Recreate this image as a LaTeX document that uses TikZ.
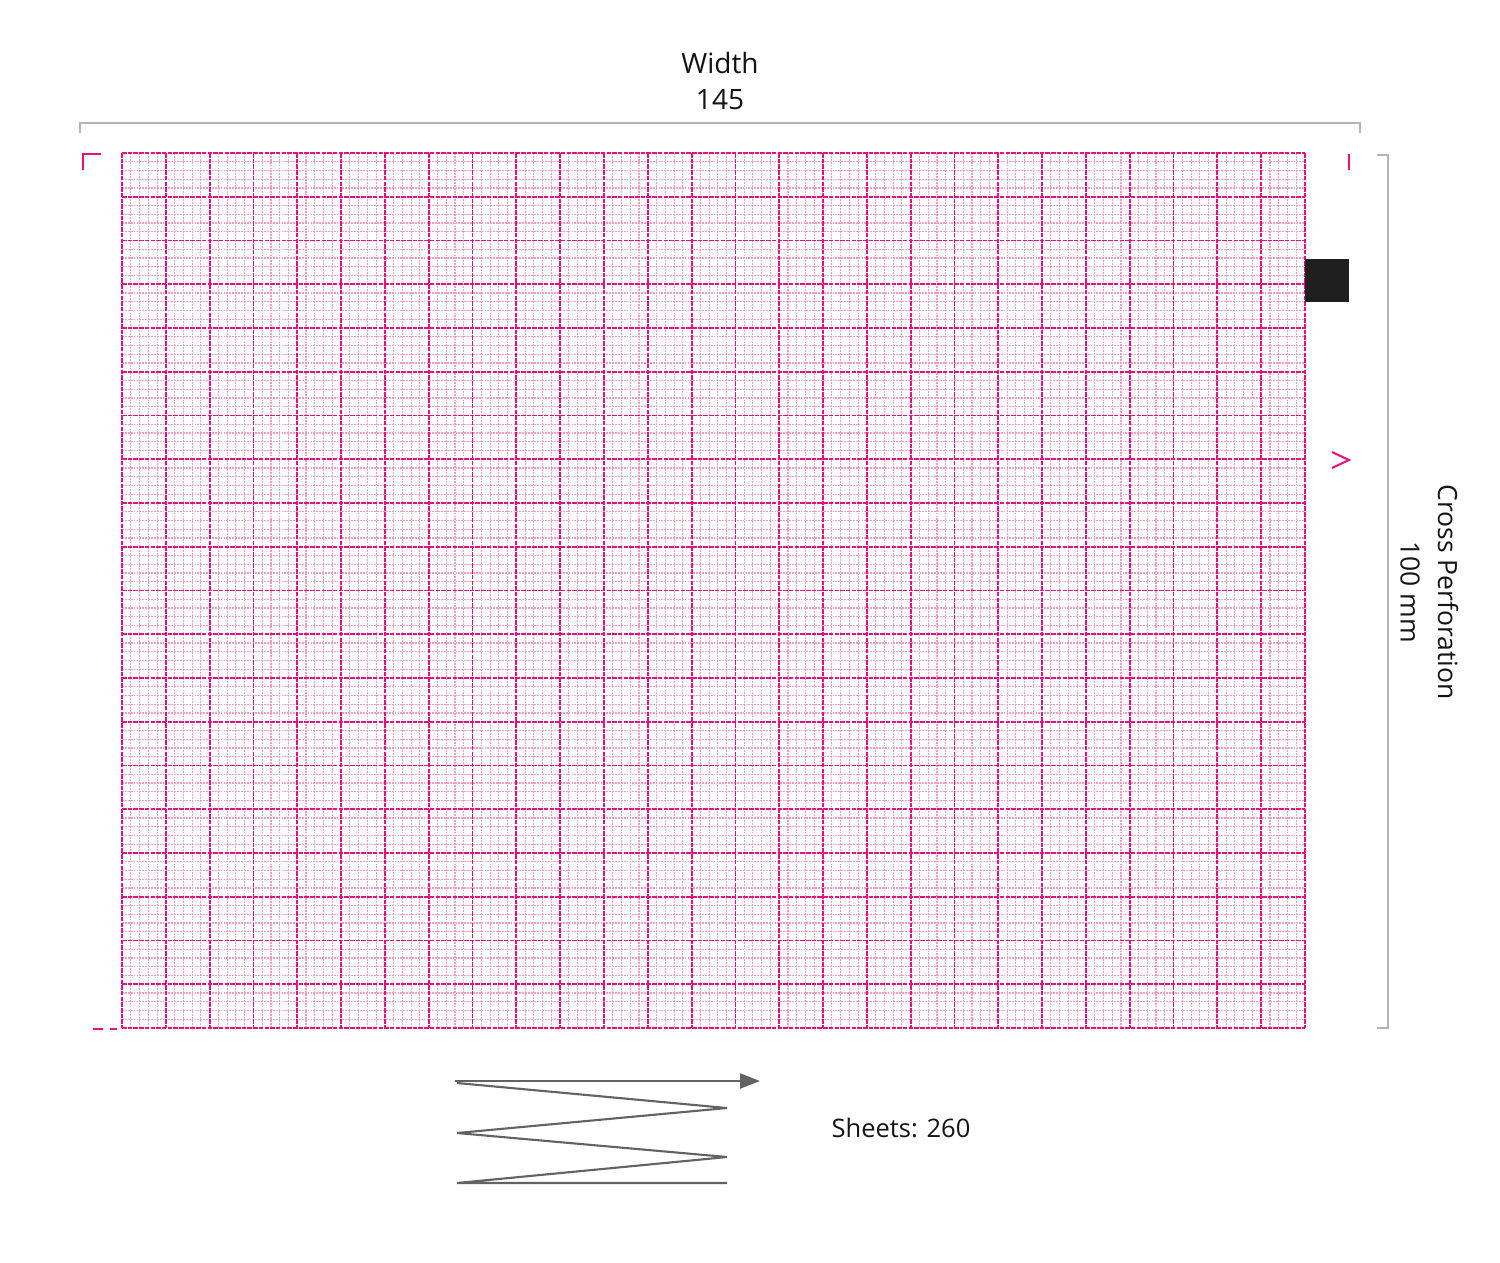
\documentclass[tikz,border=0pt]{standalone}
\usepackage{fontspec}
\setmainfont{Open Sans}
\usetikzlibrary{arrows.meta}
\definecolor{majpink}{HTML}{E8107E}
\definecolor{minpink}{HTML}{F29CC4}
\definecolor{dimgray}{HTML}{B4B4B4}
\definecolor{arrgray}{HTML}{626262}
\tikzset{
  minorline/.style={minpink, line width=1.1pt, dash pattern=on 1.8pt off 1.1pt},
  majorline/.style={majpink, line width=1.8pt, dash pattern=on 4.5pt off 1.2pt},
  dimline/.style={dimgray, line width=1.4pt},
  pinkmark/.style={majpink, line width=1.6pt},
  zig/.style={arrgray, line width=2.1pt, line join=miter},
  lbl/.style={inner sep=0pt, text=black!92, font=\fontsize{28}{30}\selectfont},
  rlbl/.style={lbl, rotate=-90, font=\fontsize{26.5}{28}\selectfont},
}
\begin{document}
\begin{tikzpicture}[x=1pt,y=-1pt]
\useasboundingbox (0,0) rectangle (1500,1262);
\fill[white] (0,0) rectangle (1500,1262);
% grid
\def\gx{122}\def\gy{153}\def\mm{8.763}
\foreach \i in {0,...,135}{
  \pgfmathtruncatemacro{\r}{mod(\i,5)}
  \ifnum\r>0
    \draw[minorline] ({\gx+\i*\mm},\gy) -- ({\gx+\i*\mm},{\gy+100*8.75});
  \fi
}
\foreach \j in {0,...,100}{
  \pgfmathtruncatemacro{\r}{mod(\j,5)}
  \ifnum\r>0
    \draw[minorline] (\gx,{\gy+\j*8.75}) -- ({\gx+135*\mm},{\gy+\j*8.75});
  \fi
}
\foreach \i in {0,5,...,135}{
  \draw[majorline] ({\gx+\i*\mm},\gy) -- ({\gx+\i*\mm},{\gy+100*8.75});
}
\foreach \j in {0,5,...,100}{
  \draw[majorline] (\gx,{\gy+\j*8.75}) -- ({\gx+135*\mm},{\gy+\j*8.75});
}
% black tab
\fill[black!88] (1305,259) rectangle (1349,302);
% pink marks
\draw[pinkmark] (101,154) -- (83,154) -- (83,170);
\draw[pinkmark] (1349,154) -- (1349,170);
\draw[pinkmark] (93,1029) -- (103,1029) (110,1029) -- (117,1029);
\draw[pinkmark, line width=2pt, line join=miter] (1332,452) -- (1349,460) -- (1332,468);
% dimension lines
\coordinate (wl) at (80,133);
\coordinate (wr) at (1360,133);
\draw[dimline] (wl) -- (80,123) -- (1360,123) -- (wr);
\coordinate (ht) at (1377,155);
\coordinate (hb) at (1377,1028);
\draw[dimline] (ht) -- (1388,155) -- (1388,1028) -- (hb);
% labels
\node[lbl] (width) at (720,63) {Width};
\node[lbl] (wval) at (720,100) {145};
\node[rlbl] (cross) at (1448,592) {Cross Perforation};
\node[rlbl] (hval) at (1410,592) {100 mm};
\node[lbl, font=\fontsize{25.5}{28}\selectfont] (sheets) at (901,1128) {Sheets: 260};
% zigzag fan-fold arrow
\coordinate (z0) at (455,1081);
\coordinate (z1) at (760,1081);
\draw[zig, -{Triangle[length=20pt,width=15pt]}] (z0) -- (z1);
\coordinate (a0) at (457,1083);
\coordinate (a1) at (727,1108);
\coordinate (a2) at (457,1133);
\coordinate (a3) at (727,1157);
\coordinate (a4) at (457,1183);
\coordinate (a5) at (727,1183);
\draw[zig] (a0) -- (a1) -- (a2) -- (a3) -- (a4) -- (a5);
\end{tikzpicture}
\end{document}
